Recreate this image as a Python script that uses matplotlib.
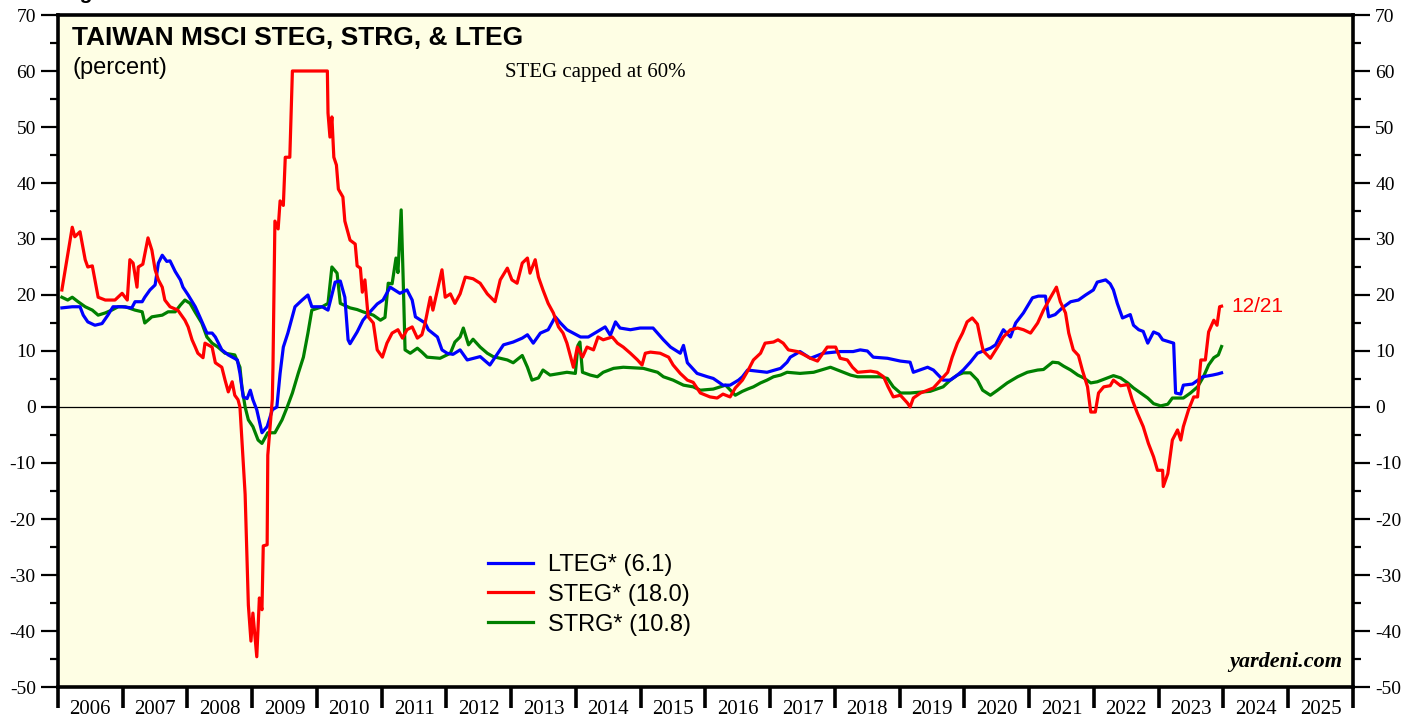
import numpy as np
import matplotlib.pyplot as plt
from matplotlib.ticker import MultipleLocator, FixedLocator, NullFormatter

plt.rcParams['axes.unicode_minus'] = False

# decimal-year dates and values
steg_dates = [2006.06, 2006.22, 2006.26, 2006.34, 2006.42, 2006.46, 2006.53, 2006.57, 2006.62, 2006.73,
              2006.88, 2006.99, 2007.07, 2007.11, 2007.16, 2007.22, 2007.24, 2007.31, 2007.39, 2007.45,
              2007.50, 2007.55, 2007.61, 2007.65, 2007.73, 2007.85, 2007.96, 2008.01, 2008.07, 2008.12,
              2008.16, 2008.24, 2008.27, 2008.38, 2008.43, 2008.53, 2008.58, 2008.63, 2008.69, 2008.73,
              2008.78, 2008.81, 2008.89, 2008.94, 2008.98, 2009.01, 2009.07, 2009.11, 2009.15, 2009.17,
              2009.23, 2009.24, 2009.31, 2009.32, 2009.35, 2009.40, 2009.43, 2009.48, 2009.51, 2009.58,
              2009.62, 2010.16, 2010.17, 2010.20, 2010.23, 2010.26, 2010.30, 2010.33, 2010.40, 2010.43,
              2010.51, 2010.59, 2010.62, 2010.67, 2010.70, 2010.74, 2010.79, 2010.87, 2010.93, 2011.01,
              2011.08, 2011.16, 2011.25, 2011.32, 2011.39, 2011.47, 2011.55, 2011.62, 2011.67, 2011.75,
              2011.79, 2011.86, 2011.93, 2011.98, 2012.06, 2012.13, 2012.21, 2012.29, 2012.41, 2012.52,
              2012.63, 2012.75, 2012.83, 2012.94, 2013.01, 2013.09, 2013.17, 2013.25, 2013.29, 2013.37,
              2013.42, 2013.49, 2013.57, 2013.65, 2013.73, 2013.80, 2013.86, 2013.96, 2014.02, 2014.10,
              2014.17, 2014.27, 2014.34, 2014.42, 2014.56, 2014.64, 2014.73, 2014.84, 2014.95, 2015.02,
              2015.07, 2015.15, 2015.30, 2015.43, 2015.50, 2015.61, 2015.72, 2015.81, 2015.92, 2016.07,
              2016.18, 2016.27, 2016.38, 2016.46, 2016.57, 2016.66, 2016.74, 2016.85, 2016.92, 2017.05,
              2017.12, 2017.20, 2017.28, 2017.42, 2017.51, 2017.62, 2017.73, 2017.88, 2018.01, 2018.08,
              2018.19, 2018.27, 2018.35, 2018.55, 2018.65, 2018.75, 2018.82, 2018.90, 2019.01, 2019.12,
              2019.16, 2019.21, 2019.32, 2019.52, 2019.63, 2019.74, 2019.81, 2019.89, 2019.97, 2020.04,
              2020.12, 2020.20, 2020.25, 2020.29, 2020.40, 2020.51, 2020.60, 2020.71, 2020.82, 2020.91,
              2021.02, 2021.13, 2021.22, 2021.33, 2021.42, 2021.48, 2021.56, 2021.61, 2021.68, 2021.76,
              2021.82, 2021.90, 2021.95, 2022.02, 2022.07, 2022.15, 2022.25, 2022.30, 2022.41, 2022.52,
              2022.59, 2022.67, 2022.76, 2022.84, 2022.92, 2022.98, 2023.06, 2023.07, 2023.14, 2023.21,
              2023.29, 2023.34, 2023.38, 2023.46, 2023.54, 2023.60, 2023.65, 2023.72, 2023.77, 2023.85,
              2023.90, 2023.94, 2023.97]
steg_vals = [20.9, 32.1, 30.4, 31.3, 26.3, 25.0, 25.2, 22.7, 19.6, 19.1,
             19.1, 20.3, 19.1, 26.3, 25.7, 21.4, 25.0, 25.5, 30.2, 28.0,
             24.5, 22.7, 21.4, 19.1, 17.9, 17.3, 15.5, 14.3, 12.0, 10.7,
             9.6, 8.8, 11.4, 10.7, 7.9, 7.1, 4.8, 2.7, 4.5, 2.1,
             1.3, 0.0, -15.6, -35.4, -41.8, -36.8, -44.6, -34.1, -36.2, -24.8,
             -24.6, -8.6, 1.4, 7.1, 33.2, 31.8, 36.8, 36.0, 44.6, 44.6,
             60.0, 60.0, 52.5, 48.2, 51.8, 44.6, 43.2, 38.9, 37.5, 33.2,
             29.8, 29.1, 25.2, 24.8, 20.5, 22.7, 16.1, 15.0, 10.2, 8.9,
             11.4, 13.2, 13.8, 12.3, 13.8, 14.3, 12.3, 12.9, 15.0, 19.6,
             17.3, 20.9, 24.5, 19.6, 20.2, 18.5, 20.2, 23.2, 22.9, 22.1,
             20.2, 18.8, 22.7, 24.8, 22.7, 22.1, 25.7, 26.6, 23.9, 26.3,
             23.2, 20.9, 18.5, 16.8, 14.3, 13.2, 11.4, 7.1, 10.7, 8.9,
             10.7, 10.2, 12.5, 12.0, 12.5, 11.4, 10.7, 9.6, 8.4, 7.5,
             9.6, 9.8, 9.6, 8.9, 7.5, 6.0, 4.8, 4.4, 2.5, 1.8,
             1.6, 2.3, 1.8, 3.4, 4.8, 6.6, 8.4, 9.6, 11.4, 11.6,
             12.0, 11.4, 10.2, 9.9, 9.4, 8.7, 8.2, 10.7, 10.7, 8.7,
             8.4, 7.1, 6.2, 6.4, 6.2, 5.4, 3.6, 1.8, 2.1, 0.7,
             0.0, 1.6, 2.5, 3.4, 4.8, 6.2, 8.9, 11.4, 13.2, 15.2,
             15.9, 14.8, 12.0, 10.0, 8.7, 10.7, 12.5, 13.8, 14.1, 13.8,
             13.2, 15.0, 17.3, 19.6, 21.4, 18.8, 16.8, 13.2, 10.2, 9.2,
             6.6, 3.6, -0.9, -0.9, 2.5, 3.6, 3.8, 4.8, 3.8, 4.0,
             1.3, -1.1, -3.5, -6.5, -8.9, -11.3, -11.3, -14.2, -11.9, -5.9,
             -4.1, -5.9, -3.5, -0.5, 1.8, 1.8, 8.4, 8.4, 13.4, 15.5,
             14.6, 17.9, 18.0]

lteg_dates = [2006.06, 2006.22, 2006.34, 2006.39, 2006.46, 2006.57, 2006.68, 2006.77, 2006.85, 2006.99,
              2007.14, 2007.19, 2007.30, 2007.34, 2007.42, 2007.50, 2007.55, 2007.61, 2007.68, 2007.73,
              2007.81, 2007.89, 2007.93, 2008.01, 2008.12, 2008.19, 2008.30, 2008.38, 2008.43, 2008.53,
              2008.63, 2008.77, 2008.81, 2008.86, 2008.92, 2008.97, 2009.01, 2009.07, 2009.15, 2009.23,
              2009.31, 2009.38, 2009.43, 2009.48, 2009.55, 2009.66, 2009.77, 2009.86, 2009.92, 2010.08,
              2010.17, 2010.28, 2010.36, 2010.43, 2010.48, 2010.51, 2010.62, 2010.71, 2010.82, 2010.93,
              2011.02, 2011.13, 2011.28, 2011.39, 2011.47, 2011.52, 2011.67, 2011.72, 2011.86, 2011.93,
              2012.01, 2012.10, 2012.21, 2012.32, 2012.52, 2012.67, 2012.88, 2013.03, 2013.17, 2013.25,
              2013.34, 2013.45, 2013.57, 2013.68, 2013.76, 2013.86, 2014.07, 2014.19, 2014.45, 2014.53,
              2014.61, 2014.68, 2014.84, 2014.99, 2015.19, 2015.35, 2015.46, 2015.61, 2015.66, 2015.72,
              2015.87, 2016.03, 2016.12, 2016.27, 2016.38, 2016.51, 2016.57, 2016.65, 2016.95, 2017.16,
              2017.26, 2017.31, 2017.46, 2017.62, 2017.82, 2018.08, 2018.28, 2018.39, 2018.50, 2018.59,
              2018.81, 2019.01, 2019.16, 2019.21, 2019.43, 2019.52, 2019.67, 2019.78, 2019.89, 2019.98,
              2020.09, 2020.20, 2020.40, 2020.48, 2020.60, 2020.71, 2020.79, 2020.91, 2021.05, 2021.14,
              2021.25, 2021.30, 2021.40, 2021.51, 2021.64, 2021.76, 2021.87, 2021.99, 2022.05, 2022.18,
              2022.25, 2022.30, 2022.36, 2022.44, 2022.56, 2022.61, 2022.69, 2022.76, 2022.83, 2022.92,
              2023.00, 2023.06, 2023.23, 2023.26, 2023.34, 2023.38, 2023.52, 2023.68, 2023.83, 2023.91,
              2023.97]
lteg_vals = [17.7, 17.9, 17.9, 16.4, 15.2, 14.6, 14.9, 16.4, 17.9, 17.9,
             17.7, 18.8, 18.8, 19.6, 20.9, 21.8, 25.7, 27.1, 26.0, 26.1,
             24.2, 22.7, 21.4, 20.0, 17.9, 16.1, 13.2, 13.2, 12.5, 10.2,
             9.3, 8.4, 6.0, 1.8, 1.5, 3.0, 1.3, -0.5, -4.6, -3.5,
             -0.5, 0.0, 6.0, 10.7, 13.2, 17.9, 19.1, 20.0, 17.9, 17.9,
             17.3, 22.3, 22.5, 19.6, 12.0, 11.3, 13.4, 15.5, 17.0, 18.4,
             19.1, 21.4, 20.3, 20.9, 19.1, 16.1, 15.0, 13.8, 12.5, 10.2,
             9.6, 9.4, 10.2, 8.4, 9.0, 7.5, 11.1, 11.6, 12.3, 12.9,
             11.4, 13.2, 13.8, 16.1, 15.0, 13.8, 12.5, 12.5, 14.3, 12.8,
             15.2, 14.1, 13.8, 14.1, 14.1, 12.0, 10.7, 9.6, 11.0, 7.9,
             6.0, 5.4, 5.1, 3.9, 3.9, 4.8, 5.4, 6.6, 6.2, 6.9,
             8.0, 8.9, 9.9, 8.7, 9.6, 9.9, 9.9, 10.2, 10.0, 8.9,
             8.7, 8.2, 8.0, 6.2, 7.1, 6.6, 4.8, 4.8, 5.7, 6.6,
             8.0, 9.6, 10.5, 11.1, 13.8, 12.5, 15.0, 16.8, 19.5, 19.8,
             19.8, 16.1, 16.5, 17.7, 18.8, 19.1, 20.0, 20.9, 22.3, 22.7,
             22.0, 20.9, 18.5, 15.9, 16.5, 14.6, 13.8, 13.5, 11.4, 13.4,
             13.0, 12.0, 11.4, 2.5, 2.3, 3.9, 4.1, 5.4, 5.7, 5.9,
             6.1]

strg_dates = [2006.06, 2006.15, 2006.22, 2006.31, 2006.42, 2006.53, 2006.62, 2006.73, 2006.83, 2006.93,
              2007.04, 2007.19, 2007.30, 2007.34, 2007.45, 2007.61, 2007.70, 2007.81, 2007.89, 2007.96,
              2008.04, 2008.12, 2008.22, 2008.30, 2008.38, 2008.47, 2008.58, 2008.73, 2008.81, 2008.84,
              2008.89, 2008.94, 2009.01, 2009.09, 2009.15, 2009.24, 2009.35, 2009.46, 2009.54, 2009.62,
              2009.71, 2009.79, 2009.86, 2009.92, 2010.08, 2010.17, 2010.23, 2010.31, 2010.36, 2010.51,
              2010.62, 2010.71, 2010.87, 2010.98, 2011.05, 2011.10, 2011.16, 2011.22, 2011.25, 2011.30,
              2011.33, 2011.36, 2011.44, 2011.55, 2011.62, 2011.70, 2011.90, 2012.06, 2012.13, 2012.21,
              2012.26, 2012.34, 2012.41, 2012.52, 2012.63, 2012.72, 2012.94, 2013.03, 2013.17, 2013.25,
              2013.32, 2013.42, 2013.49, 2013.60, 2013.86, 2013.99, 2014.03, 2014.06, 2014.10, 2014.22,
              2014.33, 2014.42, 2014.58, 2014.73, 2015.04, 2015.26, 2015.35, 2015.50, 2015.66, 2015.81,
              2015.92, 2016.12, 2016.31, 2016.46, 2016.57, 2016.65, 2016.74, 2016.85, 2016.95, 2017.05,
              2017.16, 2017.26, 2017.46, 2017.67, 2017.93, 2018.13, 2018.24, 2018.35, 2018.70, 2018.81,
              2018.90, 2019.01, 2019.16, 2019.47, 2019.67, 2019.78, 2019.89, 2019.98, 2020.09, 2020.20,
              2020.28, 2020.40, 2020.51, 2020.66, 2020.82, 2020.97, 2021.13, 2021.22, 2021.36, 2021.45,
              2021.53, 2021.64, 2021.75, 2021.84, 2021.95, 2022.05, 2022.21, 2022.30, 2022.41, 2022.52,
              2022.61, 2022.72, 2022.83, 2022.92, 2023.03, 2023.14, 2023.21, 2023.38, 2023.49, 2023.60,
              2023.69, 2023.77, 2023.85, 2023.92, 2023.97]
strg_vals = [19.6, 19.1, 19.6, 18.8, 17.9, 17.3, 16.4, 16.8, 17.3, 17.9,
             17.9, 17.3, 17.0, 15.0, 16.1, 16.4, 17.0, 17.0, 18.2, 19.1,
             18.5, 16.9, 15.0, 12.5, 11.4, 10.7, 9.6, 9.3, 7.1, 3.6,
             0.0, -2.3, -3.5, -5.9, -6.5, -4.6, -4.6, -2.3, 0.0, 2.5,
             6.0, 8.9, 13.2, 17.3, 17.9, 18.5, 25.0, 23.9, 18.5, 17.7,
             17.4, 17.0, 16.4, 15.5, 16.0, 22.1, 22.0, 26.6, 24.0, 35.2,
             23.2, 10.2, 9.6, 10.5, 9.8, 8.9, 8.7, 9.6, 11.6, 12.5,
             14.1, 11.1, 12.1, 10.7, 9.6, 9.0, 8.4, 7.9, 9.2, 7.1,
             4.8, 5.2, 6.6, 5.7, 6.2, 6.0, 11.0, 11.6, 6.2, 5.7,
             5.4, 6.2, 6.9, 7.1, 6.9, 6.2, 5.4, 4.8, 3.9, 3.6,
             3.0, 3.2, 3.9, 2.1, 2.8, 3.2, 3.6, 4.3, 4.8, 5.4,
             5.7, 6.2, 6.0, 6.2, 7.1, 6.2, 5.7, 5.4, 5.4, 5.1,
             3.6, 2.5, 2.5, 2.8, 3.6, 4.8, 5.7, 6.1, 6.1, 4.8,
             3.0, 2.1, 3.0, 4.3, 5.4, 6.2, 6.6, 6.7, 8.0, 7.9,
             7.3, 6.6, 5.7, 5.2, 4.3, 4.5, 5.2, 5.6, 5.2, 4.3,
             3.4, 2.5, 1.6, 0.6, 0.2, 0.5, 1.6, 1.6, 2.5, 3.6,
             5.4, 7.5, 8.8, 9.3, 10.8]

years = list(range(2006, 2026))
serif = ['Liberation Serif', 'DejaVu Serif']
sans = ['Liberation Sans', 'DejaVu Sans']

fig = plt.figure(figsize=(14.19, 7.19), dpi=100)
ax = fig.add_axes([58 / 1419, 1 - 687 / 719, (1353 - 58) / 1419, (687 - 15) / 719])
ax.set_facecolor('#FEFEE4')

ax.axhline(0, color='black', lw=0.9, zorder=1)
ax.plot(lteg_dates, lteg_vals, color='#0000FF', lw=2.3, label='LTEG* (6.1)', zorder=3)
ax.plot(steg_dates, steg_vals, color='#FF0000', lw=2.3, label='STEG* (18.0)', zorder=4)
ax.plot(strg_dates, strg_vals, color='#008000', lw=2.3, label='STRG* (10.8)', zorder=2)

ax.set_xlim(2006, 2026)
ax.set_ylim(-50, 70)

# y axis: ticks and labels on both sides
ax.yaxis.set_major_locator(MultipleLocator(10))
ax.yaxis.set_minor_locator(MultipleLocator(5))
ax.tick_params(axis='y', which='both', direction='out', left=True, right=True,
               labelleft=True, labelright=True, width=1.6, labelsize=14, pad=4)
ax.tick_params(axis='y', which='major', length=12)
ax.tick_params(axis='y', which='minor', length=6)

# x axis: long ticks at year boundaries, labels centred in each year
ax.xaxis.set_major_locator(FixedLocator(years + [2026]))
ax.xaxis.set_major_formatter(NullFormatter())
ax.xaxis.set_minor_locator(FixedLocator([y + 0.5 for y in years]))
ax.set_xticklabels([str(y) for y in years], minor=True)
ax.tick_params(axis='x', which='major', direction='out', length=15, width=2.6)
ax.tick_params(axis='x', which='minor', length=0, labelsize=15, pad=9)

for t in ax.get_xticklabels(minor=True) + ax.yaxis.get_ticklabels():
    t.set_family(serif)
for t in ax.yaxis.get_majorticklabels():
    t.set_family(serif)

for s in ax.spines.values():
    s.set_linewidth(2.6)

ax.text(0.011, 0.966, 'TAIWAN MSCI STEG, STRG, & LTEG', transform=ax.transAxes,
        fontsize=19, fontweight='bold', family=sans, va='center')
ax.text(0.011, 0.921, '(percent)', transform=ax.transAxes, fontsize=17, family=sans, va='center')
ax.text(0.345, 0.915, 'STEG capped at 60%', transform=ax.transAxes, fontsize=15, family=serif, va='center')
ax.text(0.992, 0.022, 'yardeni.com', transform=ax.transAxes, fontsize=16, family=serif,
        fontweight='bold', style='italic', ha='right', va='bottom')
ax.text(2024.12, steg_vals[-1], '12/21', color='#FF0000', fontsize=15, family=sans, va='center')

fig.text(62 / 1419, 1 + 1 / 719, 'Figure', fontsize=15, fontweight='bold', family=sans, va='baseline')

leg = ax.legend(loc='upper left', bbox_to_anchor=(0.332, 0.198), frameon=False,
                prop={'family': sans, 'size': 17}, handlelength=1.9, handletextpad=0.64,
                labelspacing=0.33, borderaxespad=0, borderpad=0)

fig.savefig('out.png', dpi=100)
